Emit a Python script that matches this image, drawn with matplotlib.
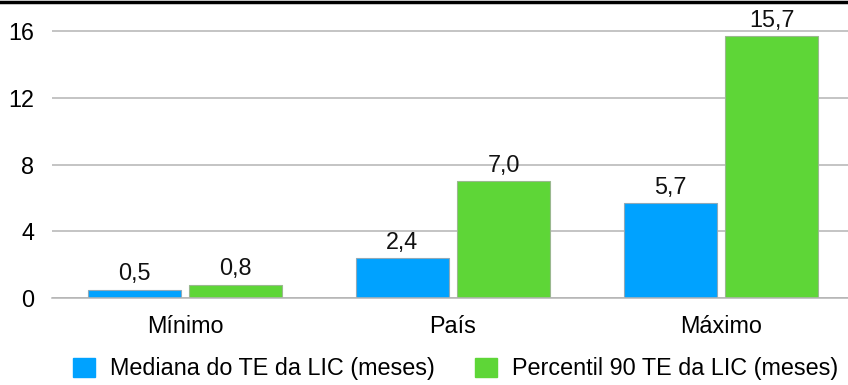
import matplotlib
matplotlib.use("Agg")
import matplotlib.pyplot as plt
from matplotlib.lines import Line2D
import numpy as np

plt.rcParams['font.family'] = ['Liberation Sans', 'DejaVu Sans']

categories = ["Mínimo", "País", "Máximo"]
mediana = [0.5, 2.4, 5.7]
percentil90 = [0.8, 7.0, 15.7]
series_names = ["Mediana do TE da LIC (meses)", "Percentil 90 TE da LIC (meses)"]
yticks = [0, 4, 8, 12, 16]

blue = "#00A2FF"
green = "#5ED637"
grid_c = "#B4B4B4"
fs = 16.8

W, H = 848, 385
fig = plt.figure(figsize=(W / 100, H / 100), dpi=100)
ax = fig.add_axes([52 / W, 87 / H, 796 / W, 298 / H])

x = np.arange(len(categories))
width = 0.347
off = 0.19
b1 = ax.bar(x - off, mediana, width, color=blue, edgecolor="#8FA9B8", linewidth=0.8, zorder=3)
b2 = ax.bar(x + off, percentil90, width, color=green, edgecolor="#9AB88F", linewidth=0.8, zorder=3)

for bars, vals in ((b1, mediana), (b2, percentil90)):
    for rect, v in zip(bars, vals):
        ax.annotate(f"{v:.1f}".replace(".", ","),
                    (rect.get_x() + rect.get_width() / 2, v),
                    xytext=(0, 3), textcoords="offset points",
                    ha="center", va="bottom", fontsize=fs, color="#111111")

ax.set_xlim(-0.496, 2.474)
ax.set_ylim(0, 16 * 298 / 267)
ax.set_yticks(yticks)
ax.set_yticklabels([str(t) for t in yticks], fontsize=fs)
ax.set_xticks(x)
ax.set_xticklabels(categories, fontsize=fs)
ax.tick_params(axis="y", length=0, pad=13)
ax.tick_params(axis="x", length=0, pad=12)
ax.yaxis.grid(True, color=grid_c, linewidth=1.1, zorder=0)
for s in ("top", "right", "left"):
    ax.spines[s].set_visible(False)
ax.spines["bottom"].set_color(grid_c)
ax.spines["bottom"].set_linewidth(1.1)
ax.spines["bottom"].set_zorder(4)

# black rule across the top edge
fig.add_artist(Line2D([0, 1], [1 - 1.5 / H, 1 - 1.5 / H], transform=fig.transFigure,
                      color="black", linewidth=2.5))

handles = [plt.Rectangle((0, 0), 1, 1, color=blue), plt.Rectangle((0, 0), 1, 1, color=green)]
fig.legend(handles, series_names, loc="center left",
           bbox_to_anchor=(73 / W, 1 - 369 / H), bbox_transform=fig.transFigure,
           ncol=2, frameon=False, fontsize=fs, borderpad=0, borderaxespad=0,
           handlelength=0.93, handleheight=0.93, handletextpad=0.64, columnspacing=1.74)

fig.savefig("out.png", dpi=100)
